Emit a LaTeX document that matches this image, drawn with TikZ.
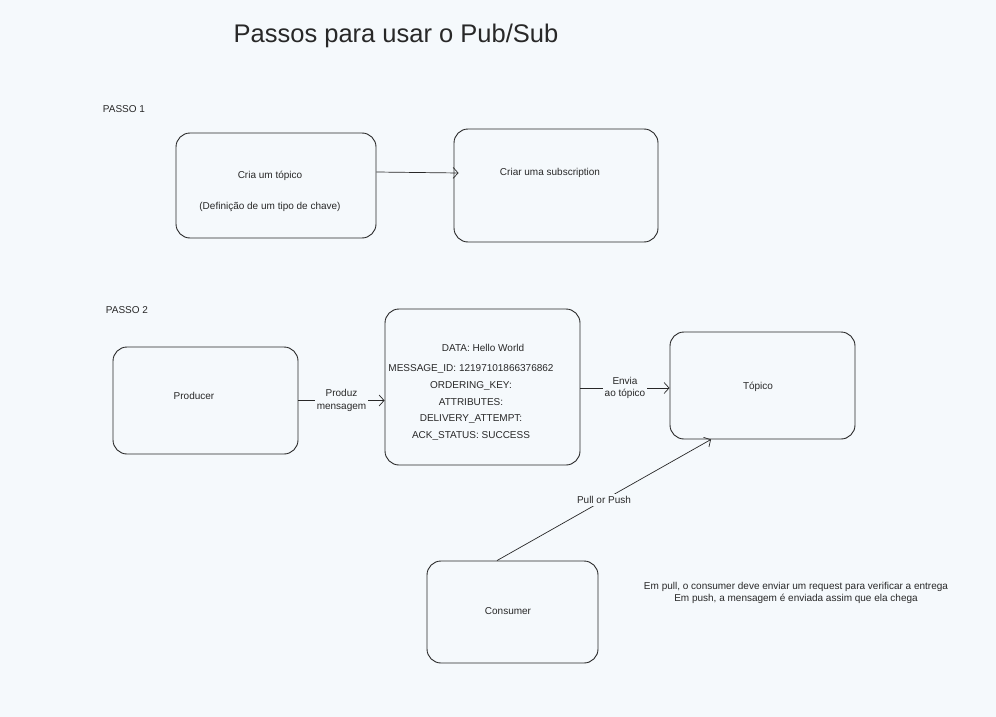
\documentclass[tikz,border=0pt]{standalone}
\usepackage{fontspec}
\setmainfont{Liberation Sans}
\usetikzlibrary{arrows.meta,positioning,calc}
\definecolor{paper}{RGB}{245,249,252}
\definecolor{ink}{RGB}{40,40,40}

\tikzset{
  txt/.style={text=ink,font=\fontsize{10}{12.5}\selectfont,align=center,inner sep=1pt},
  box/.style={txt,draw=ink,line width=0.9pt,rounded corners=14pt,fill=paper,inner sep=0pt},
  lbl/.style={txt,fill=paper,inner sep=2pt},
  link/.style={draw=ink,line width=0.7pt,-{Straight Barb[length=5pt,width=11pt]}}
}

\begin{document}
\begin{tikzpicture}[x=1pt,y=-1pt]
  \fill[paper] (0,0) rectangle (996,717);
  \useasboundingbox (0,0) rectangle (996,717);

  \node[txt,font=\fontsize{25.5}{30}\selectfont] (title) at (396,36) {Passos para usar o Pub/Sub};

  % passo 1
  \node[txt] (passo1) at (124,109) {PASSO 1};
  \node[box,minimum width=200,minimum height=105] (criatopico) at (276,185.5) {};
  \node[txt] (criatxt) at (270,191.5) {Cria um tópico\\[18.5pt](Definição de um tipo de chave)};
  \node[box,minimum width=204,minimum height=113] (subscr) at (556,185.5) {};
  \node[txt] (subtxt) at (550,173) {Criar uma subscription};
  \draw[link] ([yshift=13.5pt]criatopico.east) -- ([yshift=12.5pt,xshift=5pt]subscr.west);

  % passo 2
  \node[txt] (passo2) at (127,310) {PASSO 2};
  \node[box,minimum width=185,minimum height=107] (producer) at (205.5,400.5) {};
  \node[txt] (prodtxt) at (194,396) {Producer};
  \node[box,minimum width=195,minimum height=156] (msg) at (482.5,387) {};
  \node[txt] (msgdata) at (483,348) {DATA: Hello World};
  \node[txt,font=\fontsize{10}{16.75}\selectfont] (msgtxt) at (471,402.5)
    {MESSAGE\_ID: 12197101866376862\\ORDERING\_KEY:\\ATTRIBUTES:\\DELIVERY\_ATTEMPT:\\ACK\_STATUS: SUCCESS};
  \node[box,minimum width=185,minimum height=107] (topico) at (762.5,385.5) {};
  \node[txt] (toptxt) at (758,387) {Tópico};
  \node[box,minimum width=171,minimum height=102] (consumer) at (512.5,612) {};
  \node[txt] (constxt) at (508,611) {Consumer};

  \draw[link] (producer.east) -- (msg.west |- producer.east)
    node[lbl,midway] {Produz\\mensagem};
  \draw[link] ([yshift=-1pt]msg.east) -- ([yshift=-1pt]msg.east -| topico.west)
    node[lbl,midway] {Envia\\ao tópico};
  \draw[link] ([xshift=-15.5pt]consumer.north) -- ([xshift=-51.5pt]topico.south)
    node[lbl,pos=0.5] {Pull or Push};

  \node[txt] (nota) at (796,593) {Em pull, o consumer deve enviar um request para verificar a entrega\\Em push, a mensagem é enviada assim que ela chega};
\end{tikzpicture}
\end{document}
